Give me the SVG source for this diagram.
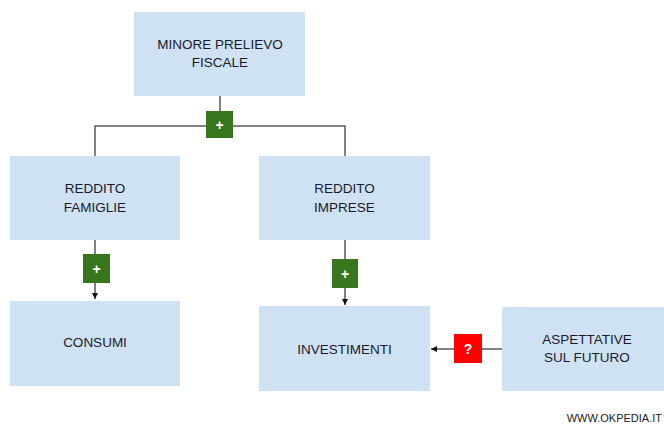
<svg xmlns="http://www.w3.org/2000/svg" width="664" height="425" viewBox="0 0 664 425">
  <style>
    .box { fill: #cfe2f3; }
    .lbl { font-family: "Liberation Sans", Arial, sans-serif; font-size: 13.5px; fill: #1a1a2e; text-anchor: middle; }
    .line { stroke: #595959; stroke-width: 1.5; fill: none; }
    .plus { fill: #38761d; }
    .qm { fill: #ff0000; }
    .sign { font-family: "Liberation Sans", Arial, sans-serif; font-size: 14px; font-weight: bold; fill: #ffffff; text-anchor: middle; }
  </style>
  <defs>
    <marker id="arrow" viewBox="0 0 10 10" refX="10" refY="5" markerWidth="6" markerHeight="6" orient="auto" markerUnits="userSpaceOnUse">
      <path d="M0,0 L10,5 L0,10 z" fill="#111"/>
    </marker>
  </defs>
  <rect width="664" height="425" fill="#ffffff"/>

  <g id="connectors">
    <path class="line" d="M220,96 V126"/>
    <path class="line" d="M95,156 V126 H345 V156"/>
    <path class="line" d="M95,240 V299" marker-end="url(#arrow)"/>
    <path class="line" d="M345,240 V305" marker-end="url(#arrow)"/>
    <path class="line" d="M502,349 H431" marker-end="url(#arrow)"/>
    <g id="sign-fiscale">
      <rect class="plus" x="206" y="111" width="27" height="27"/>
      <text class="sign" x="219.5" y="129.5">+</text>
    </g>
    <g id="sign-famiglie">
      <rect class="plus" x="83" y="254" width="27" height="29"/>
      <text class="sign" x="96.5" y="273.5">+</text>
    </g>
    <g id="sign-imprese">
      <rect class="plus" x="332" y="259" width="26" height="29"/>
      <text class="sign" x="345" y="278.5">+</text>
    </g>
    <g id="sign-aspettative">
      <rect class="qm" x="454" y="334" width="28" height="29"/>
      <text class="sign" x="468" y="353.5">?</text>
    </g>
  </g>

  <g id="minore-prelievo">
    <rect class="box" x="134" y="12" width="171" height="84"/>
    <text class="lbl" x="220" y="49">MINORE PRELIEVO</text>
    <text class="lbl" x="220" y="67">FISCALE</text>
  </g>
  <g id="reddito-famiglie">
    <rect class="box" x="10" y="156" width="170" height="84"/>
    <text class="lbl" x="95" y="193">REDDITO</text>
    <text class="lbl" x="95" y="212">FAMIGLIE</text>
  </g>
  <g id="reddito-imprese">
    <rect class="box" x="259" y="156" width="171" height="84"/>
    <text class="lbl" x="344.5" y="193">REDDITO</text>
    <text class="lbl" x="344.5" y="212">IMPRESE</text>
  </g>
  <g id="consumi">
    <rect class="box" x="10" y="301" width="170" height="85"/>
    <text class="lbl" x="95" y="347">CONSUMI</text>
  </g>
  <g id="investimenti">
    <rect class="box" x="259" y="306" width="171" height="85"/>
    <text class="lbl" x="344.5" y="354">INVESTIMENTI</text>
  </g>
  <g id="aspettative">
    <rect class="box" x="502" y="307" width="162" height="84"/>
    <text class="lbl" x="587" y="344">ASPETTATIVE</text>
    <text class="lbl" x="587" y="362">SUL FUTURO</text>
  </g>

  <text x="662" y="422" font-family="'Liberation Sans', Arial, sans-serif" font-size="11px" fill="#222" text-anchor="end">WWW.OKPEDIA.IT</text>
</svg>
